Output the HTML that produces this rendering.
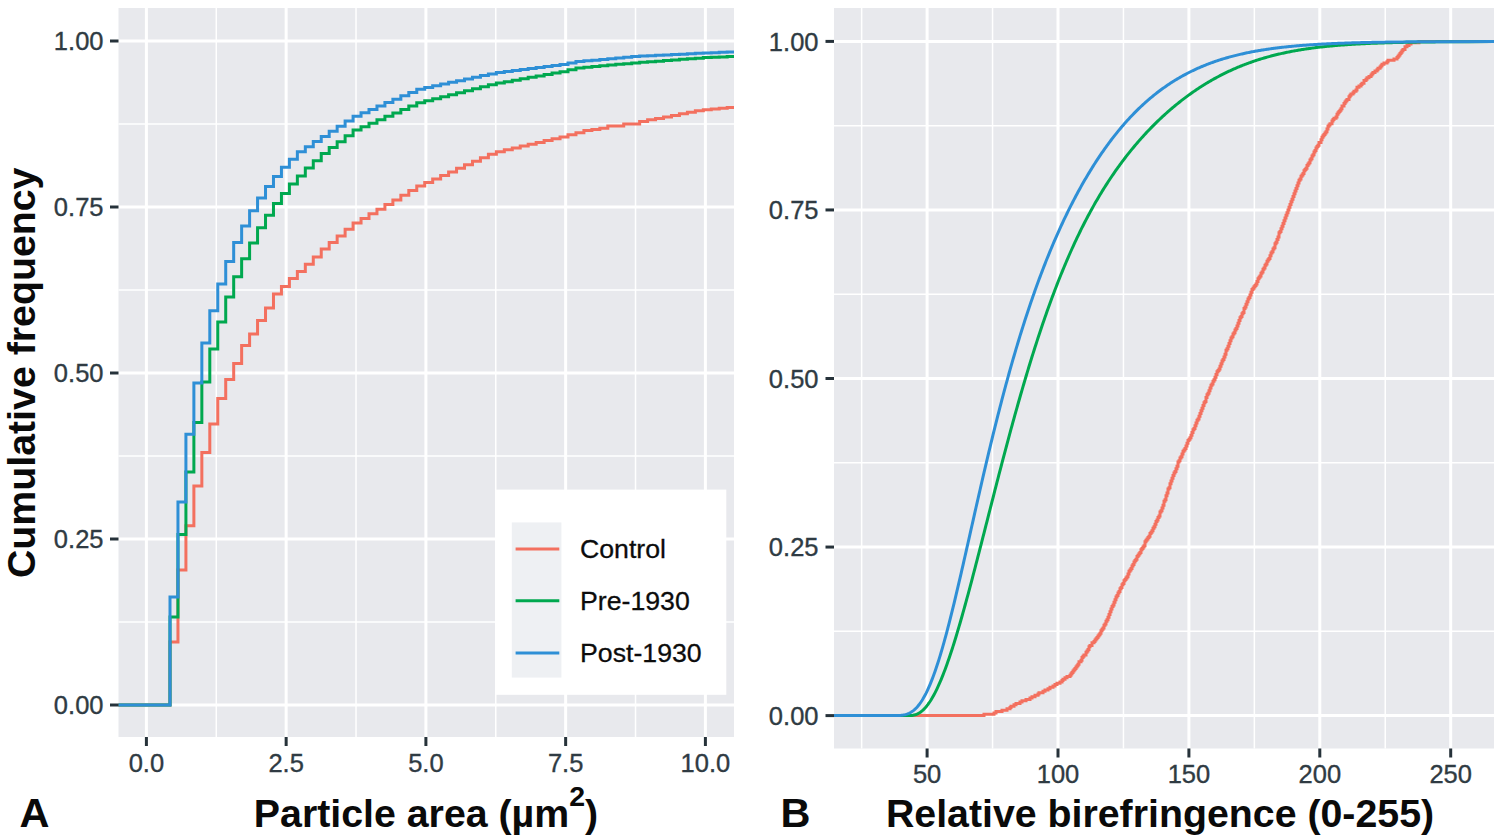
<!DOCTYPE html>
<html><head><meta charset="utf-8"><title>Cumulative frequency plots</title>
<style>html,body{margin:0;padding:0;background:#fff;width:1500px;height:840px;overflow:hidden}svg{display:block}</style>
</head><body>
<svg width="1500" height="840" viewBox="0 0 1500 840">
<rect x="0" y="0" width="1500" height="840" fill="#ffffff"/>
<rect x="118.5" y="8.0" width="615.5" height="729.0" fill="#e8e9ed"/>
<g stroke="#ffffff" fill="none">
<line x1="216.28" y1="8.0" x2="216.28" y2="737.0" stroke-width="1.5"/>
<line x1="356.02" y1="8.0" x2="356.02" y2="737.0" stroke-width="1.5"/>
<line x1="495.77" y1="8.0" x2="495.77" y2="737.0" stroke-width="1.5"/>
<line x1="635.52" y1="8.0" x2="635.52" y2="737.0" stroke-width="1.5"/>
<line x1="118.5" y1="622.00" x2="734.0" y2="622.00" stroke-width="1.5"/>
<line x1="118.5" y1="456.00" x2="734.0" y2="456.00" stroke-width="1.5"/>
<line x1="118.5" y1="290.00" x2="734.0" y2="290.00" stroke-width="1.5"/>
<line x1="118.5" y1="124.00" x2="734.0" y2="124.00" stroke-width="1.5"/>
<line x1="146.40" y1="8.0" x2="146.40" y2="737.0" stroke-width="3"/>
<line x1="286.15" y1="8.0" x2="286.15" y2="737.0" stroke-width="3"/>
<line x1="425.90" y1="8.0" x2="425.90" y2="737.0" stroke-width="3"/>
<line x1="565.65" y1="8.0" x2="565.65" y2="737.0" stroke-width="3"/>
<line x1="705.40" y1="8.0" x2="705.40" y2="737.0" stroke-width="3"/>
<line x1="118.5" y1="705.00" x2="734.0" y2="705.00" stroke-width="3"/>
<line x1="118.5" y1="539.00" x2="734.0" y2="539.00" stroke-width="3"/>
<line x1="118.5" y1="373.00" x2="734.0" y2="373.00" stroke-width="3"/>
<line x1="118.5" y1="207.00" x2="734.0" y2="207.00" stroke-width="3"/>
<line x1="118.5" y1="41.00" x2="734.0" y2="41.00" stroke-width="3"/>
</g>
<g fill="none" stroke-width="3" stroke-linejoin="miter" stroke-linecap="butt">
<path d="M118.50,705.00 L170.00,705.00 L170.00,642.00 L177.96,642.00 L177.96,570.00 L185.92,570.00 L185.92,525.70 L193.88,525.70 L193.88,486.00 L201.84,486.00 L201.84,452.40 L209.80,452.40 L209.80,424.00 L217.76,424.00 L217.76,398.40 L225.72,398.40 L225.72,379.50 L233.68,379.50 L233.68,363.40 L241.64,363.40 L241.64,345.50 L249.60,345.50 L249.60,334.00 L257.56,334.00 L257.56,320.50 L265.52,320.50 L265.52,308.00 L273.48,308.00 L273.48,294.00 L281.44,294.00 L281.44,286.60 L289.40,286.60 L289.40,278.60 L297.36,278.60 L297.36,271.40 L305.32,271.40 L305.32,264.30 L313.28,264.30 L313.28,257.00 L321.24,257.00 L321.24,249.00 L329.20,249.00 L329.20,242.45 L337.16,242.45 L337.16,235.89 L345.12,235.89 L345.12,229.34 L353.08,229.34 L353.08,223.11 L361.04,223.11 L361.04,218.46 L369.00,218.46 L369.00,213.82 L376.96,213.82 L376.96,209.18 L384.92,209.18 L384.92,204.54 L392.88,204.54 L392.88,199.90 L400.84,199.90 L400.84,195.25 L408.80,195.25 L408.80,190.61 L416.76,190.61 L416.76,186.07 L424.72,186.07 L424.72,182.53 L432.68,182.53 L432.68,178.98 L440.64,178.98 L440.64,175.44 L448.60,175.44 L448.60,171.90 L456.56,171.90 L456.56,168.35 L464.52,168.35 L464.52,164.81 L472.48,164.81 L472.48,161.27 L480.44,161.27 L480.44,157.72 L488.40,157.72 L488.40,154.18 L496.36,154.18 L496.36,151.63 L504.32,151.63 L504.32,149.79 L512.28,149.79 L512.28,147.96 L520.24,147.96 L520.24,146.12 L528.20,146.12 L528.20,144.29 L536.16,144.29 L536.16,142.45 L544.12,142.45 L544.12,140.61 L552.08,140.61 L552.08,138.78 L560.04,138.78 L560.04,136.94 L568.00,136.94 L568.00,134.80 L575.96,134.80 L575.96,132.70 L583.92,132.70 L583.92,130.60 L591.88,130.60 L591.88,129.40 L599.84,129.40 L599.84,128.20 L607.80,128.20 L607.80,126.10 L615.76,126.10 L615.76,126.10 L623.72,126.10 L623.72,124.00 L631.68,124.00 L631.68,124.00 L639.64,124.00 L639.64,121.60 L647.60,121.60 L647.60,119.85 L655.56,119.85 L655.56,118.40 L663.52,118.40 L663.52,116.95 L671.48,116.95 L671.48,115.41 L679.44,115.41 L679.44,113.82 L687.40,113.82 L687.40,112.22 L695.36,112.22 L695.36,110.63 L703.32,110.63 L703.32,109.81 L711.28,109.81 L711.28,109.06 L719.24,109.06 L719.24,108.31 L727.20,108.31 L727.20,107.57 L734.00,107.57" stroke="#f3705f"/>
<path d="M118.50,705.00 L170.00,705.00 L170.00,617.00 L177.96,617.00 L177.96,534.50 L185.92,534.50 L185.92,472.00 L193.88,472.00 L193.88,422.50 L201.84,422.50 L201.84,382.00 L209.80,382.00 L209.80,349.00 L217.76,349.00 L217.76,322.00 L225.72,322.00 L225.72,297.00 L233.68,297.00 L233.68,276.80 L241.64,276.80 L241.64,258.80 L249.60,258.80 L249.60,242.90 L257.56,242.90 L257.56,227.70 L265.52,227.70 L265.52,215.20 L273.48,215.20 L273.48,203.60 L281.44,203.60 L281.44,193.40 L289.40,193.40 L289.40,183.90 L297.36,183.90 L297.36,175.90 L305.32,175.90 L305.32,167.90 L313.28,167.90 L313.28,160.70 L321.24,160.70 L321.24,153.60 L329.20,153.60 L329.20,147.62 L337.16,147.62 L337.16,141.64 L345.12,141.64 L345.12,135.66 L353.08,135.66 L353.08,130.11 L361.04,130.11 L361.04,126.67 L369.00,126.67 L369.00,123.23 L376.96,123.23 L376.96,119.79 L384.92,119.79 L384.92,116.35 L392.88,116.35 L392.88,112.90 L400.84,112.90 L400.84,109.46 L408.80,109.46 L408.80,106.02 L416.76,106.02 L416.76,102.71 L424.72,102.71 L424.72,100.72 L432.68,100.72 L432.68,98.72 L440.64,98.72 L440.64,96.72 L448.60,96.72 L448.60,94.72 L456.56,94.72 L456.56,92.72 L464.52,92.72 L464.52,90.73 L472.48,90.73 L472.48,88.73 L480.44,88.73 L480.44,86.73 L488.40,86.73 L488.40,84.73 L496.36,84.73 L496.36,83.07 L504.32,83.07 L504.32,81.64 L512.28,81.64 L512.28,80.22 L520.24,80.22 L520.24,78.79 L528.20,78.79 L528.20,77.37 L536.16,77.37 L536.16,75.94 L544.12,75.94 L544.12,74.52 L552.08,74.52 L552.08,73.09 L560.04,73.09 L560.04,71.67 L568.00,71.67 L568.00,69.84 L575.96,69.84 L575.96,67.91 L583.92,67.91 L583.92,67.19 L591.88,67.19 L591.88,66.48 L599.84,66.48 L599.84,65.77 L607.80,65.77 L607.80,65.06 L615.76,65.06 L615.76,64.35 L623.72,64.35 L623.72,63.64 L631.68,63.64 L631.68,62.93 L639.64,62.93 L639.64,62.33 L647.60,62.33 L647.60,61.73 L655.56,61.73 L655.56,61.13 L663.52,61.13 L663.52,60.53 L671.48,60.53 L671.48,59.93 L679.44,59.93 L679.44,59.33 L687.40,59.33 L687.40,58.73 L695.36,58.73 L695.36,58.13 L703.32,58.13 L703.32,57.60 L711.28,57.60 L711.28,57.24 L719.24,57.24 L719.24,56.88 L727.20,56.88 L727.20,56.53 L734.00,56.53" stroke="#00a84f"/>
<path d="M118.50,705.00 L170.00,705.00 L170.00,597.00 L177.96,597.00 L177.96,502.00 L185.92,502.00 L185.92,434.30 L193.88,434.30 L193.88,383.00 L201.84,383.00 L201.84,342.90 L209.80,342.90 L209.80,310.70 L217.76,310.70 L217.76,284.00 L225.72,284.00 L225.72,261.60 L233.68,261.60 L233.68,242.50 L241.64,242.50 L241.64,225.90 L249.60,225.90 L249.60,210.70 L257.56,210.70 L257.56,197.90 L265.52,197.90 L265.52,186.60 L273.48,186.60 L273.48,176.40 L281.44,176.40 L281.44,167.30 L289.40,167.30 L289.40,159.30 L297.36,159.30 L297.36,151.80 L305.32,151.80 L305.32,146.67 L313.28,146.67 L313.28,141.55 L321.24,141.55 L321.24,136.42 L329.20,136.42 L329.20,131.30 L337.16,131.30 L337.16,126.17 L345.12,126.17 L345.12,121.05 L353.08,121.05 L353.08,116.22 L361.04,116.22 L361.04,112.81 L369.00,112.81 L369.00,109.41 L376.96,109.41 L376.96,106.01 L384.92,106.01 L384.92,102.60 L392.88,102.60 L392.88,99.20 L400.84,99.20 L400.84,95.79 L408.80,95.79 L408.80,92.39 L416.76,92.39 L416.76,89.14 L424.72,89.14 L424.72,87.45 L432.68,87.45 L432.68,85.76 L440.64,85.76 L440.64,84.06 L448.60,84.06 L448.60,82.37 L456.56,82.37 L456.56,80.68 L464.52,80.68 L464.52,78.98 L472.48,78.98 L472.48,77.29 L480.44,77.29 L480.44,75.60 L488.40,75.60 L488.40,73.91 L496.36,73.91 L496.36,72.61 L504.32,72.61 L504.32,71.59 L512.28,71.59 L512.28,70.58 L520.24,70.58 L520.24,69.56 L528.20,69.56 L528.20,68.55 L536.16,68.55 L536.16,67.53 L544.12,67.53 L544.12,66.52 L552.08,66.52 L552.08,65.50 L560.04,65.50 L560.04,64.49 L568.00,64.49 L568.00,63.09 L575.96,63.09 L575.96,61.61 L583.92,61.61 L583.92,60.87 L591.88,60.87 L591.88,60.13 L599.84,60.13 L599.84,59.39 L607.80,59.39 L607.80,58.65 L615.76,58.65 L615.76,57.91 L623.72,57.91 L623.72,57.17 L631.68,57.17 L631.68,56.43 L639.64,56.43 L639.64,56.04 L647.60,56.04 L647.60,55.65 L655.56,55.65 L655.56,55.27 L663.52,55.27 L663.52,54.89 L671.48,54.89 L671.48,54.51 L679.44,54.51 L679.44,54.13 L687.40,54.13 L687.40,53.75 L695.36,53.75 L695.36,53.37 L703.32,53.37 L703.32,53.00 L711.28,53.00 L711.28,52.64 L719.24,52.64 L719.24,52.28 L727.20,52.28 L727.20,51.93 L734.00,51.93" stroke="#2e8fd6"/>
</g>
<rect x="495" y="489.6" width="231.3" height="205.2" fill="#ffffff"/>
<rect x="511.8" y="522.4" width="49.6" height="155.2" fill="#eef0f3"/>
<g stroke-width="3">
<line x1="515.6" y1="548.9" x2="559.3" y2="548.9" stroke="#f3705f"/>
<line x1="515.6" y1="600.7" x2="559.3" y2="600.7" stroke="#00a84f"/>
<line x1="515.6" y1="652.9" x2="559.3" y2="652.9" stroke="#2e8fd6"/>
</g>
<g font-family="'Liberation Sans', Arial, Helvetica, sans-serif" font-size="26.7" fill="#0c0c0c" stroke="#0c0c0c" stroke-width="0.3">
<text x="580" y="558.4">Control</text>
<text x="580" y="610.2">Pre-1930</text>
<text x="580" y="662.4">Post-1930</text>
</g>
<rect x="834.0" y="8.0" width="660.0" height="740.5" fill="#e8e9ed"/>
<g stroke="#ffffff" fill="none">
<line x1="861.65" y1="8.0" x2="861.65" y2="748.5" stroke-width="1.5"/>
<line x1="992.55" y1="8.0" x2="992.55" y2="748.5" stroke-width="1.5"/>
<line x1="1123.45" y1="8.0" x2="1123.45" y2="748.5" stroke-width="1.5"/>
<line x1="1254.35" y1="8.0" x2="1254.35" y2="748.5" stroke-width="1.5"/>
<line x1="1385.25" y1="8.0" x2="1385.25" y2="748.5" stroke-width="1.5"/>
<line x1="834.0" y1="631.33" x2="1494.0" y2="631.33" stroke-width="1.5"/>
<line x1="834.0" y1="462.77" x2="1494.0" y2="462.77" stroke-width="1.5"/>
<line x1="834.0" y1="294.23" x2="1494.0" y2="294.23" stroke-width="1.5"/>
<line x1="834.0" y1="125.67" x2="1494.0" y2="125.67" stroke-width="1.5"/>
<line x1="927.10" y1="8.0" x2="927.10" y2="748.5" stroke-width="3"/>
<line x1="1058.00" y1="8.0" x2="1058.00" y2="748.5" stroke-width="3"/>
<line x1="1188.90" y1="8.0" x2="1188.90" y2="748.5" stroke-width="3"/>
<line x1="1319.80" y1="8.0" x2="1319.80" y2="748.5" stroke-width="3"/>
<line x1="1450.70" y1="8.0" x2="1450.70" y2="748.5" stroke-width="3"/>
<line x1="834.0" y1="715.60" x2="1494.0" y2="715.60" stroke-width="3"/>
<line x1="834.0" y1="547.05" x2="1494.0" y2="547.05" stroke-width="3"/>
<line x1="834.0" y1="378.50" x2="1494.0" y2="378.50" stroke-width="3"/>
<line x1="834.0" y1="209.95" x2="1494.0" y2="209.95" stroke-width="3"/>
<line x1="834.0" y1="41.40" x2="1494.0" y2="41.40" stroke-width="3"/>
</g>
<g fill="none" stroke-width="3" stroke-linejoin="miter">
<path d="M834.00,715.60 L984.00,715.60 L984.00,714.25 L994.00,714.25 L994.00,712.90 L996.00,712.90 L996.00,711.55 L1002.00,711.55 L1002.00,710.21 L1007.00,710.21 L1007.00,708.86 L1010.00,708.86 L1010.00,707.51 L1011.00,707.51 L1011.00,706.16 L1014.00,706.16 L1014.00,704.81 L1016.00,704.81 L1016.00,703.46 L1020.00,703.46 L1020.00,702.12 L1022.00,702.12 L1022.00,700.77 L1026.00,700.77 L1026.00,699.42 L1030.00,699.42 L1030.00,698.07 L1032.00,698.07 L1032.00,696.72 L1035.00,696.72 L1035.00,695.37 L1038.00,695.37 L1038.00,694.03 L1039.00,694.03 L1039.00,692.68 L1043.00,692.68 L1043.00,691.33 L1045.00,691.33 L1045.00,689.98 L1048.00,689.98 L1048.00,688.63 L1050.00,688.63 L1050.00,687.28 L1053.00,687.28 L1053.00,685.94 L1055.00,685.94 L1055.00,684.59 L1057.00,684.59 L1057.00,683.24 L1060.00,683.24 L1060.00,681.89 L1062.00,681.89 L1062.00,680.54 L1063.00,680.54 L1063.00,679.19 L1065.00,679.19 L1065.00,677.84 L1067.00,677.84 L1067.00,676.50 L1070.00,676.50 L1070.00,675.15 L1071.00,675.15 L1071.00,673.80 L1072.00,673.80 L1072.00,672.45 L1073.00,672.45 L1073.00,671.10 L1074.00,671.10 L1074.00,669.75 L1075.00,669.75 L1075.00,668.41 L1076.00,668.41 L1076.00,667.06 L1077.00,667.06 L1077.00,665.71 L1078.00,665.71 L1078.00,664.36 L1079.00,664.36 L1079.00,661.66 L1081.00,661.66 L1081.00,660.32 L1082.00,660.32 L1082.00,657.62 L1083.00,657.62 L1083.00,656.27 L1084.00,656.27 L1084.00,654.92 L1086.00,654.92 L1086.00,652.23 L1087.00,652.23 L1087.00,650.88 L1088.00,650.88 L1088.00,649.53 L1089.00,649.53 L1089.00,646.83 L1090.00,646.83 L1090.00,645.48 L1092.00,645.48 L1092.00,642.79 L1094.00,642.79 L1094.00,641.44 L1095.00,641.44 L1095.00,640.09 L1096.00,640.09 L1096.00,638.74 L1097.00,638.74 L1097.00,637.39 L1098.00,637.39 L1098.00,636.04 L1099.00,636.04 L1099.00,634.70 L1100.00,634.70 L1100.00,633.35 L1101.00,633.35 L1101.00,630.65 L1102.00,630.65 L1102.00,629.30 L1103.00,629.30 L1103.00,627.95 L1104.00,627.95 L1104.00,625.26 L1105.00,625.26 L1105.00,623.91 L1106.00,623.91 L1106.00,621.21 L1107.00,621.21 L1107.00,619.86 L1108.00,619.86 L1108.00,617.17 L1109.00,617.17 L1109.00,614.47 L1110.00,614.47 L1110.00,611.77 L1111.00,611.77 L1111.00,609.08 L1112.00,609.08 L1112.00,606.38 L1113.00,606.38 L1113.00,605.03 L1114.00,605.03 L1114.00,602.33 L1115.00,602.33 L1115.00,599.64 L1116.00,599.64 L1116.00,596.94 L1117.00,596.94 L1117.00,595.59 L1118.00,595.59 L1118.00,592.90 L1119.00,592.90 L1119.00,591.55 L1120.00,591.55 L1120.00,588.85 L1121.00,588.85 L1121.00,587.50 L1122.00,587.50 L1122.00,584.81 L1123.00,584.81 L1123.00,583.46 L1124.00,583.46 L1124.00,580.76 L1125.00,580.76 L1125.00,579.41 L1126.00,579.41 L1126.00,578.06 L1127.00,578.06 L1127.00,576.71 L1128.00,576.71 L1128.00,574.02 L1129.00,574.02 L1129.00,571.32 L1130.00,571.32 L1130.00,569.97 L1131.00,569.97 L1131.00,568.62 L1132.00,568.62 L1132.00,565.93 L1133.00,565.93 L1133.00,564.58 L1134.00,564.58 L1134.00,561.88 L1135.00,561.88 L1135.00,560.53 L1136.00,560.53 L1136.00,559.19 L1137.00,559.19 L1137.00,556.49 L1138.00,556.49 L1138.00,555.14 L1139.00,555.14 L1139.00,553.79 L1140.00,553.79 L1140.00,552.44 L1141.00,552.44 L1141.00,549.75 L1142.00,549.75 L1142.00,548.40 L1143.00,548.40 L1143.00,547.05 L1144.00,547.05 L1144.00,545.70 L1145.00,545.70 L1145.00,541.66 L1146.00,541.66 L1146.00,540.31 L1147.00,540.31 L1147.00,538.96 L1148.00,538.96 L1148.00,537.61 L1149.00,537.61 L1149.00,536.26 L1150.00,536.26 L1150.00,533.57 L1151.00,533.57 L1151.00,532.22 L1152.00,532.22 L1152.00,530.87 L1153.00,530.87 L1153.00,528.17 L1154.00,528.17 L1154.00,526.82 L1155.00,526.82 L1155.00,524.13 L1156.00,524.13 L1156.00,521.43 L1157.00,521.43 L1157.00,520.08 L1158.00,520.08 L1158.00,517.39 L1159.00,517.39 L1159.00,516.04 L1160.00,516.04 L1160.00,511.99 L1161.00,511.99 L1161.00,510.64 L1162.00,510.64 L1162.00,507.95 L1163.00,507.95 L1163.00,505.25 L1164.00,505.25 L1164.00,501.20 L1165.00,501.20 L1165.00,499.86 L1166.00,499.86 L1166.00,495.81 L1167.00,495.81 L1167.00,493.11 L1168.00,493.11 L1168.00,489.07 L1169.00,489.07 L1169.00,487.72 L1170.00,487.72 L1170.00,483.68 L1171.00,483.68 L1171.00,480.98 L1172.00,480.98 L1172.00,478.28 L1173.00,478.28 L1173.00,475.58 L1174.00,475.58 L1174.00,472.89 L1175.00,472.89 L1175.00,471.54 L1176.00,471.54 L1176.00,468.84 L1177.00,468.84 L1177.00,466.15 L1178.00,466.15 L1178.00,462.10 L1179.00,462.10 L1179.00,460.75 L1180.00,460.75 L1180.00,458.06 L1181.00,458.06 L1181.00,456.71 L1182.00,456.71 L1182.00,454.01 L1183.00,454.01 L1183.00,451.31 L1184.00,451.31 L1184.00,449.97 L1185.00,449.97 L1185.00,448.62 L1186.00,448.62 L1186.00,445.92 L1187.00,445.92 L1187.00,443.22 L1188.00,443.22 L1188.00,440.53 L1189.00,440.53 L1189.00,439.18 L1190.00,439.18 L1190.00,437.83 L1191.00,437.83 L1191.00,435.13 L1192.00,435.13 L1192.00,432.44 L1193.00,432.44 L1193.00,429.74 L1194.00,429.74 L1194.00,428.39 L1195.00,428.39 L1195.00,425.69 L1196.00,425.69 L1196.00,423.00 L1197.00,423.00 L1197.00,420.30 L1198.00,420.30 L1198.00,418.95 L1199.00,418.95 L1199.00,416.26 L1200.00,416.26 L1200.00,413.56 L1201.00,413.56 L1201.00,410.86 L1202.00,410.86 L1202.00,408.16 L1203.00,408.16 L1203.00,405.47 L1204.00,405.47 L1204.00,402.77 L1205.00,402.77 L1205.00,401.42 L1206.00,401.42 L1206.00,397.38 L1207.00,397.38 L1207.00,394.68 L1208.00,394.68 L1208.00,393.33 L1209.00,393.33 L1209.00,390.64 L1210.00,390.64 L1210.00,387.94 L1211.00,387.94 L1211.00,385.24 L1212.00,385.24 L1212.00,383.89 L1213.00,383.89 L1213.00,381.20 L1214.00,381.20 L1214.00,379.85 L1215.00,379.85 L1215.00,377.15 L1216.00,377.15 L1216.00,374.45 L1217.00,374.45 L1217.00,371.76 L1218.00,371.76 L1218.00,370.41 L1219.00,370.41 L1219.00,369.06 L1220.00,369.06 L1220.00,366.36 L1221.00,366.36 L1221.00,363.67 L1222.00,363.67 L1222.00,360.97 L1223.00,360.97 L1223.00,359.62 L1224.00,359.62 L1224.00,356.93 L1225.00,356.93 L1225.00,354.23 L1226.00,354.23 L1226.00,350.18 L1227.00,350.18 L1227.00,348.84 L1228.00,348.84 L1228.00,346.14 L1229.00,346.14 L1229.00,343.44 L1230.00,343.44 L1230.00,340.74 L1231.00,340.74 L1231.00,338.05 L1232.00,338.05 L1232.00,336.70 L1233.00,336.70 L1233.00,334.00 L1234.00,334.00 L1234.00,332.65 L1235.00,332.65 L1235.00,329.96 L1236.00,329.96 L1236.00,328.61 L1237.00,328.61 L1237.00,325.91 L1238.00,325.91 L1238.00,323.22 L1239.00,323.22 L1239.00,320.52 L1240.00,320.52 L1240.00,317.82 L1241.00,317.82 L1241.00,316.47 L1242.00,316.47 L1242.00,313.78 L1243.00,313.78 L1243.00,312.43 L1244.00,312.43 L1244.00,308.38 L1245.00,308.38 L1245.00,307.03 L1246.00,307.03 L1246.00,304.34 L1247.00,304.34 L1247.00,301.64 L1248.00,301.64 L1248.00,298.94 L1249.00,298.94 L1249.00,297.60 L1250.00,297.60 L1250.00,294.90 L1251.00,294.90 L1251.00,292.20 L1252.00,292.20 L1252.00,289.51 L1253.00,289.51 L1253.00,288.16 L1254.00,288.16 L1254.00,286.81 L1255.00,286.81 L1255.00,285.46 L1256.00,285.46 L1256.00,284.11 L1257.00,284.11 L1257.00,281.42 L1258.00,281.42 L1258.00,278.72 L1259.00,278.72 L1259.00,277.37 L1260.00,277.37 L1260.00,276.02 L1261.00,276.02 L1261.00,273.32 L1262.00,273.32 L1262.00,271.98 L1263.00,271.98 L1263.00,269.28 L1264.00,269.28 L1264.00,267.93 L1265.00,267.93 L1265.00,265.23 L1266.00,265.23 L1266.00,263.89 L1267.00,263.89 L1267.00,261.19 L1268.00,261.19 L1268.00,259.84 L1269.00,259.84 L1269.00,258.49 L1270.00,258.49 L1270.00,255.80 L1271.00,255.80 L1271.00,253.10 L1272.00,253.10 L1272.00,251.75 L1273.00,251.75 L1273.00,249.05 L1274.00,249.05 L1274.00,247.71 L1275.00,247.71 L1275.00,243.66 L1276.00,243.66 L1276.00,242.31 L1277.00,242.31 L1277.00,239.61 L1278.00,239.61 L1278.00,236.92 L1279.00,236.92 L1279.00,232.87 L1280.00,232.87 L1280.00,231.52 L1281.00,231.52 L1281.00,228.83 L1282.00,228.83 L1282.00,226.13 L1283.00,226.13 L1283.00,223.43 L1284.00,223.43 L1284.00,220.74 L1285.00,220.74 L1285.00,218.04 L1286.00,218.04 L1286.00,215.34 L1287.00,215.34 L1287.00,212.65 L1288.00,212.65 L1288.00,209.95 L1289.00,209.95 L1289.00,207.25 L1290.00,207.25 L1290.00,204.56 L1291.00,204.56 L1291.00,201.86 L1292.00,201.86 L1292.00,199.16 L1293.00,199.16 L1293.00,196.47 L1294.00,196.47 L1294.00,193.77 L1295.00,193.77 L1295.00,191.07 L1296.00,191.07 L1296.00,188.38 L1297.00,188.38 L1297.00,185.68 L1298.00,185.68 L1298.00,182.98 L1299.00,182.98 L1299.00,180.29 L1300.00,180.29 L1300.00,178.94 L1301.00,178.94 L1301.00,176.24 L1302.00,176.24 L1302.00,174.89 L1303.00,174.89 L1303.00,173.54 L1304.00,173.54 L1304.00,170.85 L1305.00,170.85 L1305.00,169.50 L1306.00,169.50 L1306.00,168.15 L1307.00,168.15 L1307.00,165.45 L1308.00,165.45 L1308.00,164.10 L1309.00,164.10 L1309.00,162.76 L1310.00,162.76 L1310.00,160.06 L1311.00,160.06 L1311.00,158.71 L1312.00,158.71 L1312.00,156.01 L1313.00,156.01 L1313.00,154.67 L1314.00,154.67 L1314.00,151.97 L1315.00,151.97 L1315.00,150.62 L1316.00,150.62 L1316.00,147.92 L1317.00,147.92 L1317.00,146.58 L1318.00,146.58 L1318.00,145.23 L1319.00,145.23 L1319.00,142.53 L1321.00,142.53 L1321.00,139.83 L1322.00,139.83 L1322.00,137.14 L1323.00,137.14 L1323.00,135.79 L1324.00,135.79 L1324.00,134.44 L1325.00,134.44 L1325.00,133.09 L1326.00,133.09 L1326.00,131.74 L1327.00,131.74 L1327.00,129.05 L1328.00,129.05 L1328.00,126.35 L1329.00,126.35 L1329.00,125.00 L1330.00,125.00 L1330.00,123.65 L1332.00,123.65 L1332.00,120.96 L1333.00,120.96 L1333.00,119.61 L1334.00,119.61 L1334.00,118.26 L1336.00,118.26 L1336.00,116.91 L1337.00,116.91 L1337.00,114.21 L1338.00,114.21 L1338.00,112.87 L1339.00,112.87 L1339.00,111.52 L1340.00,111.52 L1340.00,110.17 L1341.00,110.17 L1341.00,108.82 L1342.00,108.82 L1342.00,106.12 L1344.00,106.12 L1344.00,103.43 L1345.00,103.43 L1345.00,102.08 L1346.00,102.08 L1346.00,100.73 L1347.00,100.73 L1347.00,99.38 L1349.00,99.38 L1349.00,96.68 L1350.00,96.68 L1350.00,95.34 L1351.00,95.34 L1351.00,93.99 L1353.00,93.99 L1353.00,92.64 L1354.00,92.64 L1354.00,91.29 L1356.00,91.29 L1356.00,89.94 L1357.00,89.94 L1357.00,87.25 L1359.00,87.25 L1359.00,85.90 L1361.00,85.90 L1361.00,84.55 L1362.00,84.55 L1362.00,83.20 L1364.00,83.20 L1364.00,80.50 L1366.00,80.50 L1366.00,79.16 L1367.00,79.16 L1367.00,77.81 L1369.00,77.81 L1369.00,76.46 L1371.00,76.46 L1371.00,75.11 L1372.00,75.11 L1372.00,73.76 L1373.00,73.76 L1373.00,72.41 L1375.00,72.41 L1375.00,71.06 L1377.00,71.06 L1377.00,69.72 L1378.00,69.72 L1378.00,68.37 L1380.00,68.37 L1380.00,67.02 L1381.00,67.02 L1381.00,65.67 L1382.00,65.67 L1382.00,64.32 L1384.00,64.32 L1384.00,62.97 L1387.00,62.97 L1387.00,61.63 L1388.00,61.63 L1388.00,60.28 L1394.00,60.28 L1394.00,58.93 L1397.00,58.93 L1397.00,57.58 L1398.00,57.58 L1398.00,56.23 L1399.00,56.23 L1399.00,54.88 L1400.00,54.88 L1400.00,53.54 L1401.00,53.54 L1401.00,52.19 L1402.00,52.19 L1402.00,50.84 L1403.00,50.84 L1403.00,49.49 L1405.00,49.49 L1405.00,46.79 L1407.00,46.79 L1407.00,45.45 L1409.00,45.45 L1409.00,44.10 L1411.00,44.10 L1411.00,42.75 L1419.00,42.75 L1419.00,41.40 L1494.00,41.40" stroke="#f3705f"/>
<path d="M834.0,715.60 L909.0,715.60 L910.0,715.57 L911.0,715.52 L912.0,715.43 L913.0,715.28 L914.0,715.08 L915.0,714.82 L916.0,714.49 L917.0,714.09 L918.0,713.62 L919.0,713.07 L920.0,712.44 L921.0,711.73 L922.0,710.94 L923.0,710.06 L924.0,709.10 L925.0,708.05 L926.0,706.91 L927.0,705.69 L928.0,704.39 L929.0,702.99 L930.0,701.51 L931.0,699.95 L932.0,698.30 L933.0,696.57 L934.0,694.75 L935.0,692.85 L936.0,690.87 L937.0,688.81 L938.0,686.68 L939.0,684.47 L940.0,682.18 L941.0,679.82 L942.0,677.38 L943.0,674.88 L944.0,672.31 L945.0,669.67 L946.0,666.96 L947.0,664.19 L948.0,661.36 L949.0,658.47 L950.0,655.52 L951.0,652.52 L952.0,649.46 L953.0,646.34 L954.0,643.18 L955.0,639.97 L956.0,636.70 L957.0,633.40 L958.0,630.05 L959.0,626.66 L960.0,623.22 L961.0,619.75 L962.0,616.25 L963.0,612.70 L964.0,609.13 L965.0,605.52 L966.0,601.88 L967.0,598.22 L968.0,594.52 L969.0,590.81 L970.0,587.07 L971.0,583.30 L972.0,579.52 L973.0,575.72 L974.0,571.90 L975.0,568.06 L976.0,564.21 L977.0,560.35 L978.0,556.47 L979.0,552.59 L980.0,548.69 L981.0,544.79 L982.0,540.88 L983.0,536.96 L984.0,533.04 L985.0,529.12 L986.0,525.20 L987.0,521.27 L988.0,517.34 L989.0,513.42 L990.0,509.50 L991.0,505.58 L992.0,501.67 L993.0,497.76 L994.0,493.85 L995.0,489.96 L996.0,486.07 L997.0,482.19 L998.0,478.32 L999.0,474.46 L1000.0,470.62 L1001.0,466.78 L1002.0,462.96 L1003.0,459.15 L1004.0,455.35 L1005.0,451.57 L1006.0,447.80 L1007.0,444.05 L1008.0,440.32 L1009.0,436.60 L1010.0,432.90 L1011.0,429.22 L1012.0,425.56 L1013.0,421.92 L1014.0,418.29 L1015.0,414.69 L1016.0,411.10 L1017.0,407.54 L1018.0,404.00 L1019.0,400.48 L1020.0,396.98 L1021.0,393.50 L1022.0,390.05 L1023.0,386.62 L1024.0,383.21 L1025.0,379.83 L1026.0,376.46 L1027.0,373.13 L1028.0,369.81 L1029.0,366.52 L1030.0,363.26 L1031.0,360.02 L1032.0,356.80 L1033.0,353.61 L1034.0,350.45 L1035.0,347.30 L1036.0,344.19 L1037.0,341.10 L1038.0,338.03 L1039.0,334.99 L1040.0,331.98 L1041.0,328.99 L1042.0,326.03 L1043.0,323.09 L1044.0,320.17 L1045.0,317.29 L1046.0,314.43 L1047.0,311.59 L1048.0,308.78 L1049.0,306.00 L1050.0,303.24 L1051.0,300.50 L1052.0,297.79 L1053.0,295.11 L1054.0,292.45 L1055.0,289.82 L1056.0,287.21 L1057.0,284.62 L1058.0,282.07 L1059.0,279.53 L1060.0,277.02 L1061.0,274.54 L1062.0,272.07 L1063.0,269.64 L1064.0,267.22 L1065.0,264.83 L1066.0,262.47 L1067.0,260.13 L1068.0,257.81 L1069.0,255.51 L1070.0,253.24 L1071.0,250.99 L1072.0,248.76 L1073.0,246.56 L1074.0,244.38 L1075.0,242.22 L1076.0,240.08 L1077.0,237.96 L1078.0,235.87 L1079.0,233.79 L1080.0,231.74 L1081.0,229.71 L1082.0,227.70 L1083.0,225.71 L1084.0,223.74 L1085.0,221.79 L1086.0,219.86 L1087.0,217.95 L1088.0,216.06 L1089.0,214.19 L1090.0,212.34 L1091.0,210.50 L1092.0,208.69 L1093.0,206.89 L1094.0,205.12 L1095.0,203.36 L1096.0,201.62 L1097.0,199.89 L1098.0,198.18 L1099.0,196.50 L1100.0,194.82 L1101.0,193.17 L1102.0,191.53 L1103.0,189.91 L1104.0,188.30 L1105.0,186.71 L1106.0,185.14 L1107.0,183.58 L1108.0,182.03 L1109.0,180.51 L1110.0,178.99 L1111.0,177.50 L1112.0,176.01 L1113.0,174.54 L1114.0,173.09 L1115.0,171.65 L1116.0,170.22 L1117.0,168.81 L1118.0,167.41 L1119.0,166.03 L1120.0,164.65 L1121.0,163.29 L1122.0,161.95 L1123.0,160.61 L1124.0,159.29 L1125.0,157.98 L1126.0,156.69 L1127.0,155.40 L1128.0,154.13 L1129.0,152.87 L1130.0,151.62 L1131.0,150.39 L1132.0,149.16 L1133.0,147.95 L1134.0,146.75 L1135.0,145.55 L1136.0,144.37 L1137.0,143.20 L1138.0,142.04 L1139.0,140.89 L1140.0,139.76 L1141.0,138.63 L1142.0,137.51 L1143.0,136.40 L1144.0,135.30 L1145.0,134.22 L1146.0,133.14 L1147.0,132.07 L1148.0,131.01 L1149.0,129.96 L1150.0,128.92 L1151.0,127.89 L1152.0,126.87 L1153.0,125.86 L1154.0,124.85 L1155.0,123.86 L1156.0,122.87 L1157.0,121.90 L1158.0,120.93 L1159.0,119.97 L1160.0,119.02 L1161.0,118.08 L1162.0,117.14 L1163.0,116.22 L1164.0,115.30 L1165.0,114.39 L1166.0,113.49 L1167.0,112.60 L1168.0,111.71 L1169.0,110.84 L1170.0,109.97 L1171.0,109.11 L1172.0,108.25 L1173.0,107.41 L1174.0,106.57 L1175.0,105.74 L1176.0,104.92 L1177.0,104.10 L1178.0,103.30 L1179.0,102.50 L1180.0,101.71 L1181.0,100.92 L1182.0,100.14 L1183.0,99.37 L1184.0,98.61 L1185.0,97.86 L1186.0,97.11 L1187.0,96.37 L1188.0,95.63 L1189.0,94.90 L1190.0,94.18 L1191.0,93.47 L1192.0,92.77 L1193.0,92.07 L1194.0,91.37 L1195.0,90.69 L1196.0,90.01 L1197.0,89.34 L1198.0,88.67 L1199.0,88.02 L1200.0,87.36 L1201.0,86.72 L1202.0,86.08 L1203.0,85.45 L1204.0,84.82 L1205.0,84.21 L1206.0,83.59 L1207.0,82.99 L1208.0,82.39 L1209.0,81.80 L1210.0,81.21 L1211.0,80.63 L1212.0,80.06 L1213.0,79.49 L1214.0,78.93 L1215.0,78.37 L1216.0,77.82 L1217.0,77.28 L1218.0,76.74 L1219.0,76.21 L1220.0,75.69 L1221.0,75.17 L1222.0,74.66 L1223.0,74.15 L1224.0,73.65 L1225.0,73.15 L1226.0,72.67 L1227.0,72.18 L1228.0,71.70 L1229.0,71.23 L1230.0,70.77 L1231.0,70.31 L1232.0,69.85 L1233.0,69.40 L1234.0,68.96 L1235.0,68.52 L1236.0,68.09 L1237.0,67.66 L1238.0,67.24 L1239.0,66.82 L1240.0,66.41 L1241.0,66.00 L1242.0,65.60 L1243.0,65.21 L1244.0,64.81 L1245.0,64.43 L1246.0,64.05 L1247.0,63.67 L1248.0,63.30 L1249.0,62.94 L1250.0,62.58 L1251.0,62.22 L1252.0,61.87 L1253.0,61.53 L1254.0,61.18 L1255.0,60.85 L1256.0,60.52 L1257.0,60.19 L1258.0,59.87 L1259.0,59.55 L1260.0,59.24 L1261.0,58.93 L1262.0,58.62 L1263.0,58.32 L1264.0,58.03 L1265.0,57.73 L1266.0,57.45 L1267.0,57.16 L1268.0,56.89 L1269.0,56.61 L1270.0,56.34 L1271.0,56.07 L1272.0,55.81 L1273.0,55.55 L1274.0,55.30 L1275.0,55.05 L1276.0,54.80 L1277.0,54.56 L1278.0,54.32 L1279.0,54.08 L1280.0,53.85 L1281.0,53.62 L1282.0,53.40 L1283.0,53.18 L1284.0,52.96 L1285.0,52.74 L1286.0,52.53 L1287.0,52.33 L1288.0,52.12 L1289.0,51.92 L1290.0,51.72 L1291.0,51.53 L1292.0,51.34 L1293.0,51.15 L1294.0,50.97 L1295.0,50.79 L1296.0,50.61 L1297.0,50.43 L1298.0,50.26 L1299.0,50.09 L1300.0,49.92 L1301.0,49.76 L1302.0,49.60 L1303.0,49.44 L1304.0,49.28 L1305.0,49.13 L1306.0,48.98 L1307.0,48.83 L1308.0,48.69 L1309.0,48.54 L1310.0,48.40 L1311.0,48.27 L1312.0,48.13 L1313.0,48.00 L1314.0,47.87 L1315.0,47.74 L1316.0,47.61 L1317.0,47.49 L1318.0,47.37 L1319.0,47.25 L1320.0,47.13 L1321.0,47.02 L1322.0,46.91 L1323.0,46.80 L1324.0,46.69 L1325.0,46.58 L1326.0,46.48 L1327.0,46.37 L1328.0,46.27 L1329.0,46.17 L1330.0,46.08 L1331.0,45.98 L1332.0,45.89 L1333.0,45.80 L1334.0,45.71 L1335.0,45.62 L1336.0,45.53 L1337.0,45.45 L1338.0,45.36 L1339.0,45.28 L1340.0,45.20 L1341.0,45.12 L1342.0,45.05 L1343.0,44.97 L1344.0,44.90 L1345.0,44.82 L1346.0,44.75 L1347.0,44.68 L1348.0,44.61 L1349.0,44.55 L1350.0,44.48 L1351.0,44.42 L1352.0,44.35 L1353.0,44.29 L1354.0,44.23 L1355.0,44.17 L1356.0,44.11 L1357.0,44.06 L1358.0,44.00 L1359.0,43.94 L1360.0,43.89 L1361.0,43.84 L1362.0,43.79 L1363.0,43.74 L1364.0,43.69 L1365.0,43.64 L1366.0,43.59 L1367.0,43.54 L1368.0,43.50 L1369.0,43.45 L1370.0,43.41 L1371.0,43.37 L1372.0,43.32 L1373.0,43.28 L1374.0,43.24 L1375.0,43.20 L1376.0,43.16 L1377.0,43.13 L1378.0,43.09 L1379.0,43.05 L1380.0,43.02 L1381.0,42.98 L1382.0,42.95 L1383.0,42.92 L1384.0,42.88 L1385.0,42.85 L1386.0,42.82 L1387.0,42.79 L1388.0,42.76 L1389.0,42.73 L1390.0,42.70 L1391.0,42.67 L1392.0,42.65 L1393.0,42.62 L1394.0,42.59 L1395.0,42.57 L1396.0,42.54 L1397.0,42.52 L1398.0,42.49 L1399.0,42.47 L1400.0,42.45 L1401.0,42.42 L1402.0,42.40 L1403.0,42.38 L1404.0,42.36 L1405.0,42.34 L1406.0,42.32 L1407.0,42.30 L1408.0,42.28 L1409.0,42.26 L1410.0,42.24 L1411.0,42.22 L1412.0,42.20 L1413.0,42.19 L1414.0,42.17 L1415.0,42.15 L1416.0,42.14 L1417.0,42.12 L1418.0,42.10 L1419.0,42.09 L1420.0,42.07 L1421.0,42.06 L1422.0,42.05 L1423.0,42.03 L1424.0,42.02 L1425.0,42.00 L1426.0,41.99 L1427.0,41.98 L1428.0,41.97 L1429.0,41.95 L1430.0,41.94 L1431.0,41.93 L1432.0,41.92 L1433.0,41.91 L1434.0,41.90 L1435.0,41.88 L1436.0,41.87 L1437.0,41.86 L1438.0,41.85 L1439.0,41.84 L1440.0,41.83 L1441.0,41.83 L1442.0,41.82 L1443.0,41.81 L1444.0,41.80 L1445.0,41.79 L1446.0,41.78 L1447.0,41.77 L1448.0,41.76 L1449.0,41.76 L1450.0,41.75 L1451.0,41.74 L1452.0,41.73 L1453.0,41.73 L1454.0,41.72 L1455.0,41.71 L1456.0,41.71 L1457.0,41.70 L1458.0,41.69 L1459.0,41.69 L1460.0,41.68 L1461.0,41.67 L1462.0,41.67 L1463.0,41.66 L1464.0,41.66 L1465.0,41.65 L1466.0,41.65 L1467.0,41.64 L1468.0,41.64 L1469.0,41.63 L1494.0,41.54" stroke="#00a84f"/>
<path d="M834.0,715.60 L894.0,715.60 L895.0,715.59 L896.0,715.58 L897.0,715.56 L898.0,715.53 L899.0,715.49 L900.0,715.42 L901.0,715.34 L902.0,715.23 L903.0,715.08 L904.0,714.90 L905.0,714.68 L906.0,714.41 L907.0,714.09 L908.0,713.72 L909.0,713.28 L910.0,712.79 L911.0,712.22 L912.0,711.58 L913.0,710.86 L914.0,710.07 L915.0,709.19 L916.0,708.22 L917.0,707.17 L918.0,706.02 L919.0,704.78 L920.0,703.44 L921.0,702.01 L922.0,700.48 L923.0,698.85 L924.0,697.11 L925.0,695.28 L926.0,693.35 L927.0,691.31 L928.0,689.18 L929.0,686.94 L930.0,684.61 L931.0,682.17 L932.0,679.64 L933.0,677.02 L934.0,674.29 L935.0,671.48 L936.0,668.58 L937.0,665.58 L938.0,662.50 L939.0,659.34 L940.0,656.09 L941.0,652.77 L942.0,649.36 L943.0,645.89 L944.0,642.34 L945.0,638.72 L946.0,635.03 L947.0,631.29 L948.0,627.48 L949.0,623.61 L950.0,619.69 L951.0,615.72 L952.0,611.70 L953.0,607.64 L954.0,603.53 L955.0,599.38 L956.0,595.19 L957.0,590.97 L958.0,586.71 L959.0,582.43 L960.0,578.12 L961.0,573.79 L962.0,569.43 L963.0,565.06 L964.0,560.67 L965.0,556.27 L966.0,551.85 L967.0,547.43 L968.0,542.99 L969.0,538.56 L970.0,534.12 L971.0,529.68 L972.0,525.24 L973.0,520.80 L974.0,516.37 L975.0,511.94 L976.0,507.52 L977.0,503.11 L978.0,498.72 L979.0,494.33 L980.0,489.96 L981.0,485.61 L982.0,481.27 L983.0,476.95 L984.0,472.65 L985.0,468.36 L986.0,464.10 L987.0,459.87 L988.0,455.65 L989.0,451.46 L990.0,447.29 L991.0,443.15 L992.0,439.03 L993.0,434.95 L994.0,430.88 L995.0,426.85 L996.0,422.85 L997.0,418.87 L998.0,414.92 L999.0,411.01 L1000.0,407.12 L1001.0,403.26 L1002.0,399.44 L1003.0,395.64 L1004.0,391.88 L1005.0,388.14 L1006.0,384.44 L1007.0,380.77 L1008.0,377.13 L1009.0,373.52 L1010.0,369.95 L1011.0,366.41 L1012.0,362.89 L1013.0,359.41 L1014.0,355.96 L1015.0,352.55 L1016.0,349.16 L1017.0,345.81 L1018.0,342.48 L1019.0,339.19 L1020.0,335.93 L1021.0,332.70 L1022.0,329.50 L1023.0,326.33 L1024.0,323.19 L1025.0,320.08 L1026.0,317.00 L1027.0,313.95 L1028.0,310.93 L1029.0,307.94 L1030.0,304.98 L1031.0,302.04 L1032.0,299.14 L1033.0,296.26 L1034.0,293.41 L1035.0,290.59 L1036.0,287.80 L1037.0,285.03 L1038.0,282.29 L1039.0,279.58 L1040.0,276.89 L1041.0,274.23 L1042.0,271.60 L1043.0,268.99 L1044.0,266.41 L1045.0,263.85 L1046.0,261.32 L1047.0,258.81 L1048.0,256.33 L1049.0,253.87 L1050.0,251.44 L1051.0,249.02 L1052.0,246.64 L1053.0,244.27 L1054.0,241.93 L1055.0,239.61 L1056.0,237.32 L1057.0,235.04 L1058.0,232.79 L1059.0,230.56 L1060.0,228.35 L1061.0,226.16 L1062.0,224.00 L1063.0,221.85 L1064.0,219.73 L1065.0,217.63 L1066.0,215.54 L1067.0,213.48 L1068.0,211.44 L1069.0,209.42 L1070.0,207.41 L1071.0,205.43 L1072.0,203.46 L1073.0,201.52 L1074.0,199.59 L1075.0,197.69 L1076.0,195.80 L1077.0,193.93 L1078.0,192.07 L1079.0,190.24 L1080.0,188.42 L1081.0,186.62 L1082.0,184.84 L1083.0,183.08 L1084.0,181.33 L1085.0,179.61 L1086.0,177.89 L1087.0,176.20 L1088.0,174.52 L1089.0,172.86 L1090.0,171.21 L1091.0,169.59 L1092.0,167.97 L1093.0,166.38 L1094.0,164.80 L1095.0,163.23 L1096.0,161.68 L1097.0,160.15 L1098.0,158.63 L1099.0,157.13 L1100.0,155.64 L1101.0,154.17 L1102.0,152.71 L1103.0,151.27 L1104.0,149.85 L1105.0,148.43 L1106.0,147.04 L1107.0,145.65 L1108.0,144.28 L1109.0,142.93 L1110.0,141.59 L1111.0,140.26 L1112.0,138.95 L1113.0,137.65 L1114.0,136.37 L1115.0,135.10 L1116.0,133.84 L1117.0,132.59 L1118.0,131.36 L1119.0,130.15 L1120.0,128.94 L1121.0,127.75 L1122.0,126.57 L1123.0,125.41 L1124.0,124.25 L1125.0,123.11 L1126.0,121.99 L1127.0,120.87 L1128.0,119.77 L1129.0,118.68 L1130.0,117.60 L1131.0,116.54 L1132.0,115.48 L1133.0,114.44 L1134.0,113.41 L1135.0,112.39 L1136.0,111.39 L1137.0,110.39 L1138.0,109.41 L1139.0,108.44 L1140.0,107.48 L1141.0,106.53 L1142.0,105.59 L1143.0,104.67 L1144.0,103.75 L1145.0,102.84 L1146.0,101.95 L1147.0,101.07 L1148.0,100.19 L1149.0,99.33 L1150.0,98.48 L1151.0,97.64 L1152.0,96.81 L1153.0,95.99 L1154.0,95.18 L1155.0,94.38 L1156.0,93.58 L1157.0,92.80 L1158.0,92.03 L1159.0,91.27 L1160.0,90.52 L1161.0,89.78 L1162.0,89.04 L1163.0,88.32 L1164.0,87.60 L1165.0,86.90 L1166.0,86.20 L1167.0,85.52 L1168.0,84.84 L1169.0,84.17 L1170.0,83.51 L1171.0,82.86 L1172.0,82.21 L1173.0,81.58 L1174.0,80.95 L1175.0,80.33 L1176.0,79.72 L1177.0,79.12 L1178.0,78.53 L1179.0,77.94 L1180.0,77.36 L1181.0,76.79 L1182.0,76.23 L1183.0,75.68 L1184.0,75.13 L1185.0,74.59 L1186.0,74.06 L1187.0,73.53 L1188.0,73.02 L1189.0,72.51 L1190.0,72.00 L1191.0,71.51 L1192.0,71.02 L1193.0,70.54 L1194.0,70.06 L1195.0,69.59 L1196.0,69.13 L1197.0,68.68 L1198.0,68.23 L1199.0,67.79 L1200.0,67.35 L1201.0,66.92 L1202.0,66.50 L1203.0,66.08 L1204.0,65.67 L1205.0,65.27 L1206.0,64.87 L1207.0,64.47 L1208.0,64.09 L1209.0,63.71 L1210.0,63.33 L1211.0,62.96 L1212.0,62.60 L1213.0,62.24 L1214.0,61.88 L1215.0,61.53 L1216.0,61.19 L1217.0,60.85 L1218.0,60.52 L1219.0,60.19 L1220.0,59.87 L1221.0,59.55 L1222.0,59.24 L1223.0,58.93 L1224.0,58.63 L1225.0,58.33 L1226.0,58.04 L1227.0,57.75 L1228.0,57.46 L1229.0,57.18 L1230.0,56.91 L1231.0,56.63 L1232.0,56.37 L1233.0,56.10 L1234.0,55.85 L1235.0,55.59 L1236.0,55.34 L1237.0,55.09 L1238.0,54.85 L1239.0,54.61 L1240.0,54.38 L1241.0,54.15 L1242.0,53.92 L1243.0,53.69 L1244.0,53.47 L1245.0,53.26 L1246.0,53.05 L1247.0,52.84 L1248.0,52.63 L1249.0,52.43 L1250.0,52.23 L1251.0,52.03 L1252.0,51.84 L1253.0,51.65 L1254.0,51.46 L1255.0,51.28 L1256.0,51.10 L1257.0,50.92 L1258.0,50.75 L1259.0,50.58 L1260.0,50.41 L1261.0,50.24 L1262.0,50.08 L1263.0,49.92 L1264.0,49.76 L1265.0,49.61 L1266.0,49.46 L1267.0,49.31 L1268.0,49.16 L1269.0,49.02 L1270.0,48.87 L1271.0,48.73 L1272.0,48.60 L1273.0,48.46 L1274.0,48.33 L1275.0,48.20 L1276.0,48.07 L1277.0,47.95 L1278.0,47.82 L1279.0,47.70 L1280.0,47.58 L1281.0,47.47 L1282.0,47.35 L1283.0,47.24 L1284.0,47.13 L1285.0,47.02 L1286.0,46.91 L1287.0,46.81 L1288.0,46.70 L1289.0,46.60 L1290.0,46.50 L1291.0,46.41 L1292.0,46.31 L1293.0,46.22 L1294.0,46.12 L1295.0,46.03 L1296.0,45.94 L1297.0,45.85 L1298.0,45.77 L1299.0,45.68 L1300.0,45.60 L1301.0,45.52 L1302.0,45.44 L1303.0,45.36 L1304.0,45.28 L1305.0,45.21 L1306.0,45.13 L1307.0,45.06 L1308.0,44.99 L1309.0,44.92 L1310.0,44.85 L1311.0,44.78 L1312.0,44.72 L1313.0,44.65 L1314.0,44.59 L1315.0,44.52 L1316.0,44.46 L1317.0,44.40 L1318.0,44.34 L1319.0,44.28 L1320.0,44.23 L1321.0,44.17 L1322.0,44.12 L1323.0,44.06 L1324.0,44.01 L1325.0,43.96 L1326.0,43.91 L1327.0,43.86 L1328.0,43.81 L1329.0,43.76 L1330.0,43.71 L1331.0,43.66 L1332.0,43.62 L1333.0,43.57 L1334.0,43.53 L1335.0,43.49 L1336.0,43.45 L1337.0,43.40 L1338.0,43.36 L1339.0,43.32 L1340.0,43.29 L1341.0,43.25 L1342.0,43.21 L1343.0,43.17 L1344.0,43.14 L1345.0,43.10 L1346.0,43.07 L1347.0,43.03 L1348.0,43.00 L1349.0,42.97 L1350.0,42.93 L1351.0,42.90 L1352.0,42.87 L1353.0,42.84 L1354.0,42.81 L1355.0,42.78 L1356.0,42.75 L1357.0,42.73 L1358.0,42.70 L1359.0,42.67 L1360.0,42.65 L1361.0,42.62 L1362.0,42.60 L1363.0,42.57 L1364.0,42.55 L1365.0,42.52 L1366.0,42.50 L1367.0,42.48 L1368.0,42.45 L1369.0,42.43 L1370.0,42.41 L1371.0,42.39 L1372.0,42.37 L1373.0,42.35 L1374.0,42.33 L1375.0,42.31 L1376.0,42.29 L1377.0,42.27 L1378.0,42.25 L1379.0,42.24 L1380.0,42.22 L1381.0,42.20 L1382.0,42.18 L1383.0,42.17 L1384.0,42.15 L1385.0,42.14 L1386.0,42.12 L1387.0,42.10 L1388.0,42.09 L1389.0,42.08 L1390.0,42.06 L1391.0,42.05 L1392.0,42.03 L1393.0,42.02 L1394.0,42.01 L1395.0,41.99 L1396.0,41.98 L1397.0,41.97 L1398.0,41.96 L1399.0,41.94 L1400.0,41.93 L1401.0,41.92 L1402.0,41.91 L1403.0,41.90 L1404.0,41.89 L1405.0,41.88 L1406.0,41.87 L1407.0,41.86 L1408.0,41.85 L1409.0,41.84 L1410.0,41.83 L1411.0,41.82 L1412.0,41.81 L1413.0,41.80 L1414.0,41.79 L1415.0,41.78 L1416.0,41.78 L1417.0,41.77 L1418.0,41.76 L1419.0,41.75 L1420.0,41.74 L1421.0,41.74 L1422.0,41.73 L1423.0,41.72 L1424.0,41.72 L1425.0,41.71 L1426.0,41.70 L1427.0,41.70 L1428.0,41.69 L1429.0,41.68 L1430.0,41.68 L1431.0,41.67 L1432.0,41.66 L1433.0,41.66 L1434.0,41.65 L1435.0,41.65 L1436.0,41.64 L1437.0,41.64 L1438.0,41.63 L1439.0,41.63 L1494.0,41.47" stroke="#2e8fd6"/>
</g>
<g stroke="#26323a" stroke-width="3">
<line x1="110" y1="705.00" x2="118.5" y2="705.00"/>
<line x1="825.5" y1="715.60" x2="834.0" y2="715.60"/>
<line x1="110" y1="539.00" x2="118.5" y2="539.00"/>
<line x1="825.5" y1="547.05" x2="834.0" y2="547.05"/>
<line x1="110" y1="373.00" x2="118.5" y2="373.00"/>
<line x1="825.5" y1="378.50" x2="834.0" y2="378.50"/>
<line x1="110" y1="207.00" x2="118.5" y2="207.00"/>
<line x1="825.5" y1="209.95" x2="834.0" y2="209.95"/>
<line x1="110" y1="41.00" x2="118.5" y2="41.00"/>
<line x1="825.5" y1="41.40" x2="834.0" y2="41.40"/>
<line x1="146.40" y1="737.0" x2="146.40" y2="746"/>
<line x1="286.15" y1="737.0" x2="286.15" y2="746"/>
<line x1="425.90" y1="737.0" x2="425.90" y2="746"/>
<line x1="565.65" y1="737.0" x2="565.65" y2="746"/>
<line x1="705.40" y1="737.0" x2="705.40" y2="746"/>
<line x1="927.10" y1="748.5" x2="927.10" y2="757.5"/>
<line x1="1058.00" y1="748.5" x2="1058.00" y2="757.5"/>
<line x1="1188.90" y1="748.5" x2="1188.90" y2="757.5"/>
<line x1="1319.80" y1="748.5" x2="1319.80" y2="757.5"/>
<line x1="1450.70" y1="748.5" x2="1450.70" y2="757.5"/>
</g>
<g font-family="'Liberation Sans', Arial, Helvetica, sans-serif" font-size="25.5" fill="#2f3b43" stroke="#2f3b43" stroke-width="0.35">
<text x="103.5" y="714.20" text-anchor="end">0.00</text>
<text x="818.5" y="724.80" text-anchor="end">0.00</text>
<text x="103.5" y="548.20" text-anchor="end">0.25</text>
<text x="818.5" y="556.25" text-anchor="end">0.25</text>
<text x="103.5" y="382.20" text-anchor="end">0.50</text>
<text x="818.5" y="387.70" text-anchor="end">0.50</text>
<text x="103.5" y="216.20" text-anchor="end">0.75</text>
<text x="818.5" y="219.15" text-anchor="end">0.75</text>
<text x="103.5" y="50.20" text-anchor="end">1.00</text>
<text x="818.5" y="50.60" text-anchor="end">1.00</text>
<text x="146.40" y="772.4" text-anchor="middle">0.0</text>
<text x="286.15" y="772.4" text-anchor="middle">2.5</text>
<text x="425.90" y="772.4" text-anchor="middle">5.0</text>
<text x="565.65" y="772.4" text-anchor="middle">7.5</text>
<text x="705.40" y="772.4" text-anchor="middle">10.0</text>
<text x="927.10" y="782.6" text-anchor="middle">50</text>
<text x="1058.00" y="782.6" text-anchor="middle">100</text>
<text x="1188.90" y="782.6" text-anchor="middle">150</text>
<text x="1319.80" y="782.6" text-anchor="middle">200</text>
<text x="1450.70" y="782.6" text-anchor="middle">250</text>
</g>
<g font-family="'Liberation Sans', Arial, Helvetica, sans-serif" font-weight="bold" fill="#0a0a0a">
<text x="0" y="0" font-size="39.3" text-anchor="middle" transform="translate(34.6,372.8) rotate(-90)">Cumulative frequency</text>
<text x="426" y="826.5" font-size="39.3" text-anchor="middle">Particle area (µm<tspan font-size="28.5" dy="-20.5">2</tspan><tspan dy="20.5">)</tspan></text>
<text x="1160" y="826.8" font-size="39.3" text-anchor="middle">Relative birefringence (0-255)</text>
<text x="19.5" y="827" font-size="41.5">A</text>
<text x="780.5" y="827.2" font-size="41.5">B</text>
</g>
</svg>
</body></html>
